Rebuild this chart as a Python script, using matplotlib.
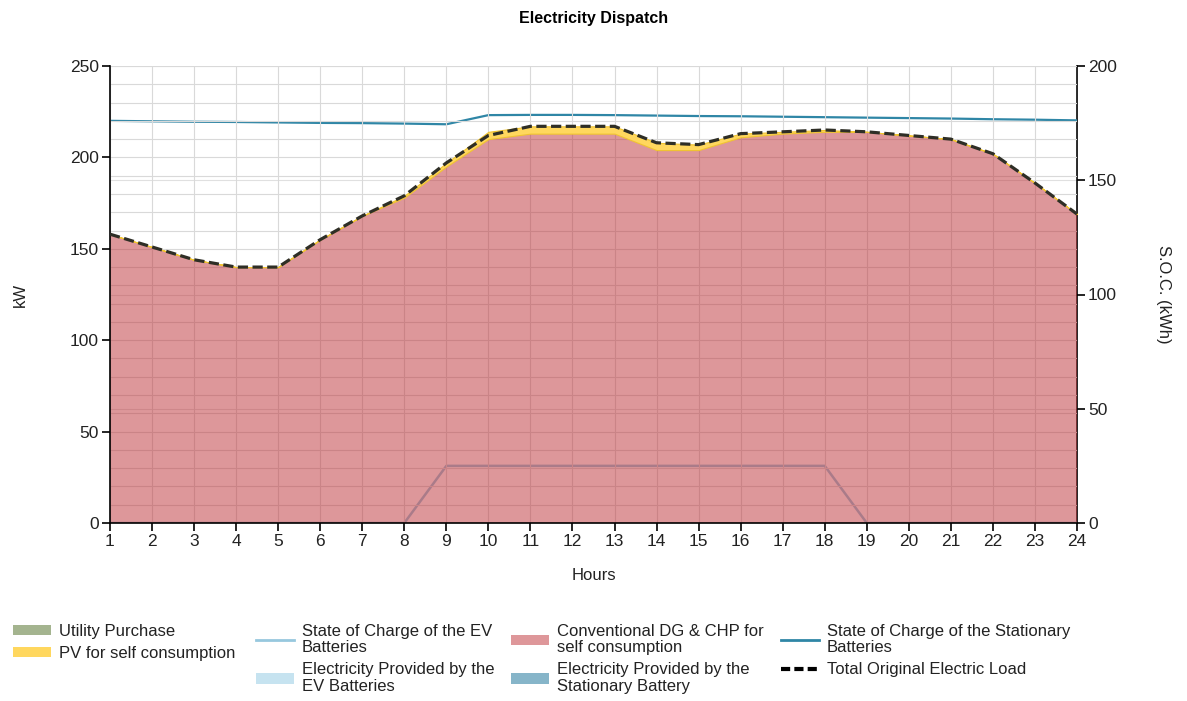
import matplotlib
matplotlib.use("Agg")
import matplotlib.pyplot as plt
from matplotlib.patches import Patch
from matplotlib.lines import Line2D

plt.rcParams['font.family'] = ['Liberation Sans', 'DejaVu Sans']

hours = list(range(1, 25))
total_load = [158, 151, 144, 140, 140, 155, 168, 179, 197, 212, 217, 217,
              217, 208, 207, 213, 214, 215, 214, 212, 210, 202, 186, 169]
conventional = [158, 151, 144, 140, 140, 155, 168, 178, 195, 210, 213, 213,
                213, 204, 204, 211, 213, 214, 214, 212, 210, 202, 186, 169]
pv_self = [0, 0, 0, 0, 0, 0, 0, 1, 2, 4, 4, 4, 4, 4, 3, 2, 1, 1, 0, 0, 0, 0, 0, 0]
utility = [0, 0, 0, 0, 0, 0, 0, 0, 0, 0, 0, 0, 0, 0, 0, 0, 0, 0, 0, 0, 0, 0, 0, 0]
ev_provided = [0, 0, 0, 0, 0, 0, 0, 0, 0, 0, 0, 0, 0, 0, 0, 0, 0, 0, 0, 0, 0, 0, 0, 0]
stat_provided = [0, 0, 0, 0, 0, 0, 0, 0, 0, 0, 0, 0, 0, 0, 0, 0, 0, 0, 0, 0, 0, 0, 0, 0]
ev_soc = [0, 0, 0, 0, 0, 0, 0, 0, 25, 25, 25, 25, 25, 25, 25, 25, 25, 25, 0, 0, 0, 0, 0, 0]
stat_soc = [176.0, 175.8, 175.6, 175.5, 175.3, 175.1, 175.0, 174.8, 174.5, 178.5, 178.6, 178.6,
            178.5, 178.3, 178.1, 178.0, 177.8, 177.6, 177.4, 177.2, 177.0, 176.7, 176.5, 176.2]

labels = ["Utility Purchase", "PV for self consumption",
          "State of Charge of the EV\nBatteries", "Electricity Provided by the\nEV Batteries",
          "Conventional DG & CHP for\nself consumption", "Electricity Provided by the\nStationary Battery",
          "State of Charge of the Stationary\nBatteries", "Total Original Electric Load"]

c_util = '#a4b48f'
c_pv = '#ffd75e'
c_evsoc = '#97c8de'
c_evprov = '#c6e3f0'
c_conv_base = '#bd3036'
c_conv_leg = '#de979a'
c_statprov = '#86b5c9'
c_statsoc = '#2f86a6'

fig = plt.figure(figsize=(11.87, 7.01), dpi=100)
ax = fig.add_axes([110/1187, 1-523/701, 967/1187, 457/701])
ax2 = ax.twinx()
ax.set_zorder(ax2.get_zorder() + 1)
ax.patch.set_visible(False)

# right axis (behind)
ax2.set_ylim(0, 200)
ax2.set_yticks([0, 50, 100, 150, 200])
ax2.plot(hours, ev_soc, color=c_evsoc, lw=1.8, zorder=3)
ax2.plot(hours, stat_soc, color=c_statsoc, lw=1.6, zorder=3)
ax2.grid(axis='y', color='#e0e0e0', lw=0.8, zorder=0)
ax2.set_axisbelow(True)

# left axis (front)
ax.stackplot(hours, utility, ev_provided, stat_provided, conventional,
             colors=[c_util, c_evprov, c_statprov, c_conv_base], alpha=1.0, zorder=1)
ax.collections[3].set_alpha(0.5)
ax.fill_between(hours, conventional, [a + b for a, b in zip(conventional, pv_self)],
                color=c_pv, lw=0.8, edgecolor='#f0c430', zorder=1.5)
ax.plot(hours, total_load, color='#2e2e26', lw=2.3, dashes=(3.2, 1.4), zorder=4)

ax.set_xlim(1, 24)
ax.set_ylim(0, 250)
ax.set_xticks(hours)
ax.set_yticks([0, 50, 100, 150, 200, 250])
ax.set_yticks(range(0, 251, 10), minor=True)
ax.set_axisbelow(True)
ax.grid(which='major', color='#d9d9d9', lw=0.8)
ax.grid(which='minor', axis='y', color='#d9d9d9', lw=0.8)
ax.tick_params(which='minor', length=0)
ax.tick_params(which='major', direction='out', length=6, width=1.2, labelsize=12.5,
               labelcolor='#222222', pad=2)
ax2.tick_params(direction='out', length=6, width=1.2, labelsize=12.5, labelcolor='#222222', pad=2)

for a in (ax, ax2):
    a.spines['top'].set_visible(False)
ax.spines['right'].set_visible(False)
ax2.spines['left'].set_visible(False)
ax2.spines['bottom'].set_visible(False)
for s in ('left', 'bottom'):
    ax.spines[s].set_linewidth(1.2)
ax2.spines['right'].set_linewidth(1.2)

ax.set_xlabel("Hours", fontsize=12, color='#222222')
ax.xaxis.label.set_va('center')
ax.xaxis.set_label_coords(0.5, -52/457)
ax.set_ylabel("kW", fontsize=12, color='#222222')
ax.yaxis.label.set_va('center')
ax.yaxis.set_label_coords(-90/967, 0.5)
ax2.set_ylabel("S.O.C. (kWh)", fontsize=12, color='#222222', rotation=270)
ax2.yaxis.label.set_va('center')
ax2.yaxis.set_label_coords(1053/967, 0.5)

fig.text(0.5, 1-18/701, "Electricity Dispatch", ha='center', va='center',
         fontsize=11.5, fontweight='bold')

# legend (4 columns)
handles = [Patch(facecolor=c_util), Patch(facecolor=c_pv),
           Line2D([], [], color=c_evsoc, lw=2), Patch(facecolor=c_evprov),
           Patch(facecolor=c_conv_leg), Patch(facecolor=c_statprov),
           Line2D([], [], color=c_statsoc, lw=2), Line2D([], [], color='black', lw=3, dashes=(2.2, 1.0))]
col_x = [13, 256, 511, 781]
for i, x in enumerate(col_x):
    leg = fig.legend(handles[2*i:2*i+2], labels[2*i:2*i+2], loc='upper left',
                     bbox_to_anchor=(x/1187, 1-624/701), frameon=False, fontsize=12,
                     handlelength=2.3, handleheight=0.6, handletextpad=0.45,
                     labelspacing=0.42, borderpad=0, borderaxespad=0)
    for t in leg.get_texts():
        t.set_linespacing(1.12)
        t.set_color('#222222')

fig.savefig("out.png", dpi=100)
